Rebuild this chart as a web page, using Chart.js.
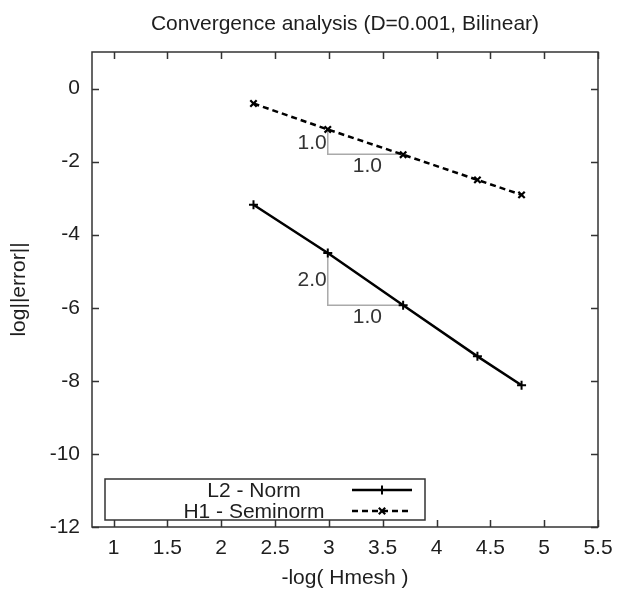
<!DOCTYPE html>
<html><head><meta charset="utf-8">
<script src="https://cdn.jsdelivr.net/npm/chart.js@4.4.0/dist/chart.umd.min.js"></script>
<style>html,body{margin:0;padding:0;background:#fff;} canvas{display:block;}</style>
</head><body>
<canvas id="c" width="617" height="590"></canvas>
<script>
// ---- data ----
const xVals = [2.30, 2.99, 3.69, 4.38, 4.79];
const l2Vals = [-3.18, -4.50, -5.93, -7.33, -8.12];
const h1Vals = [-0.41, -1.12, -1.81, -2.50, -2.91];
const xTicks = [1, 1.5, 2, 2.5, 3, 3.5, 4, 4.5, 5, 5.5];
const yTicks = [0, -2, -4, -6, -8, -10, -12];
const triH1X = [2.99, 2.99, 3.69];
const triH1Y = [-1.12, -1.80, -1.80];
const triL2X = [2.99, 2.99, 3.69];
const triL2Y = [-4.50, -5.93, -5.93];
const triH1Labels = ['1.0', '1.0'];
const triL2Labels = ['2.0', '1.0'];
const seriesNames = ['L2 - Norm', 'H1 - Seminorm'];

const FONT = "'Liberation Sans', Arial, sans-serif";
const TXT = '#1e1e1e';

function pts(xs, ys) { return xs.map((x, i) => ({x: x, y: ys[i]})); }

const overlay = {
  id: 'overlay',
  afterDatasetsDraw(chart) {
    const ctx = chart.ctx, a = chart.chartArea;
    const xs = chart.scales.x, ys = chart.scales.y;
    ctx.save();
    // frame
    ctx.strokeStyle = '#333';
    ctx.lineWidth = 1.5;
    ctx.strokeRect(a.left, a.top, a.right - a.left, a.bottom - a.top);
    // inward ticks
    const tl = 7;
    ctx.beginPath();
    xTicks.forEach(v => {
      const p = Math.round(xs.getPixelForValue(v)) + 0.5;
      ctx.moveTo(p, a.bottom); ctx.lineTo(p, a.bottom - tl);
      ctx.moveTo(p, a.top); ctx.lineTo(p, a.top + tl);
    });
    yTicks.forEach(v => {
      const p = Math.round(ys.getPixelForValue(v)) + 0.5;
      ctx.moveTo(a.left, p); ctx.lineTo(a.left + tl, p);
      ctx.moveTo(a.right, p); ctx.lineTo(a.right - tl, p);
    });
    ctx.stroke();

    // triangle labels
    ctx.fillStyle = '#333';
    ctx.font = '21px ' + FONT;
    const tri = [[triH1X, triH1Y, triH1Labels], [triL2X, triL2Y, triL2Labels]];
    tri.forEach(([tx, ty, lab]) => {
      const x0 = xs.getPixelForValue(tx[0]);
      const yTop = ys.getPixelForValue(ty[0]);
      const yBot = ys.getPixelForValue(ty[1]);
      const x1 = xs.getPixelForValue(tx[2]);
      ctx.textAlign = 'right'; ctx.textBaseline = 'middle';
      ctx.fillText(lab[0], x0 - 1, (yTop + yBot) / 2 + 1);
      ctx.textAlign = 'center'; ctx.textBaseline = 'middle';
      ctx.fillText(lab[1], (x0 + x1) / 2 + 2, yBot + 12);
    });

    // legend box
    const bl = a.left + 13, br = a.left + 333, bb = a.bottom - 7, bt = bb - 41;
    ctx.fillStyle = '#fff';
    ctx.fillRect(bl, bt, br - bl, bb - bt);
    ctx.strokeStyle = '#333';
    ctx.lineWidth = 1.5;
    ctx.strokeRect(bl, bt, br - bl, bb - bt);
    const rows = [bt + 11, bt + 32];
    [0, 1].forEach(i => {
      const ds = chart.data.datasets[i];
      ctx.fillStyle = TXT;
      ctx.font = '21px ' + FONT;
      ctx.textAlign = 'center'; ctx.textBaseline = 'middle';
      ctx.fillText(ds.label, bl + 149, rows[i] + 1);
      ctx.strokeStyle = ds.borderColor;
      ctx.lineWidth = ds.borderWidth;
      ctx.setLineDash(ds.borderDash || []);
      ctx.beginPath();
      ctx.moveTo(bl + 247, rows[i]); ctx.lineTo(bl + 307, rows[i]);
      ctx.stroke();
      ctx.setLineDash([]);
      if (Chart.helpers && Chart.helpers.drawPoint) {
        ctx.fillStyle = ds.pointBackgroundColor;
        ctx.strokeStyle = ds.pointBorderColor;
        ctx.lineWidth = ds.pointBorderWidth;
        Chart.helpers.drawPoint(ctx, {pointStyle: ds.pointStyle, radius: ds.pointRadius, borderWidth: ds.pointBorderWidth, rotation: 0}, bl + 277, rows[i]);
      }
    });
    ctx.restore();
  }
};

new Chart(document.getElementById('c'), {
  type: 'scatter',
  data: {
    datasets: [
      {label: seriesNames[0], data: pts(xVals, l2Vals), showLine: true,
       borderColor: '#000', borderWidth: 2.5, pointStyle: 'cross', pointRadius: 4.5,
       pointBorderWidth: 2, pointBorderColor: '#000', pointBackgroundColor: '#000'},
      {label: seriesNames[1], data: pts(xVals, h1Vals), showLine: true,
       borderColor: '#000', borderWidth: 2.5, borderDash: [6, 4], pointStyle: 'crossRot', pointRadius: 4.5,
       pointBorderWidth: 2.2, pointBorderColor: '#000', pointBackgroundColor: '#000'},
      {label: 'tri1', data: pts(triH1X, triH1Y), showLine: true, borderColor: '#aaa',
       borderWidth: 1.5, pointRadius: 0},
      {label: 'tri2', data: pts(triL2X, triL2Y), showLine: true, borderColor: '#aaa',
       borderWidth: 1.5, pointRadius: 0}
    ]
  },
  options: {
    responsive: false,
    animation: false,
    layout: {padding: {left: 0, right: 19, top: 0, bottom: 0}},
    plugins: {
      legend: {display: false},
      tooltip: {enabled: false},
      title: {display: true, fullSize: false, text: 'Convergence analysis (D=0.001, Bilinear)', color: TXT,
        font: {family: FONT, size: 21, weight: 'normal', lineHeight: 1.2},
        padding: {top: 12, bottom: 14.8}}
    },
    scales: {
      x: {type: 'linear', min: 0.8, max: 5.5,
        afterFit(s) { s.height = 63; s.paddingLeft = 0; s.paddingRight = 0; },
        afterBuildTicks(s) { s.ticks = xTicks.map(v => ({value: v})); },
        grid: {display: false, drawTicks: false},
        border: {display: false},
        ticks: {color: TXT, font: {family: FONT, size: 21}, padding: 9, maxRotation: 0, autoSkip: false,
          callback: v => String(v)},
        title: {display: true, text: '-log( Hmesh )', color: TXT,
          font: {family: FONT, size: 21, lineHeight: 1}, padding: {top: 0, bottom: 1}}
      },
      y: {type: 'linear', min: -12, max: 1,
        afterFit(s) { s.width = 92; s.paddingTop = 0; s.paddingBottom = 0; },
        afterBuildTicks(s) { s.ticks = yTicks.map(v => ({value: v})); },
        grid: {display: false, drawTicks: false},
        border: {display: false},
        ticks: {color: TXT, font: {family: FONT, size: 21}, padding: 12, autoSkip: false,
          callback: v => String(v)},
        title: {display: true, text: 'log||error||', color: TXT,
          font: {family: FONT, size: 21, lineHeight: 1}, padding: {top: 9, bottom: 0}}
      }
    }
  },
  plugins: [overlay]
});
</script>
</body></html>
